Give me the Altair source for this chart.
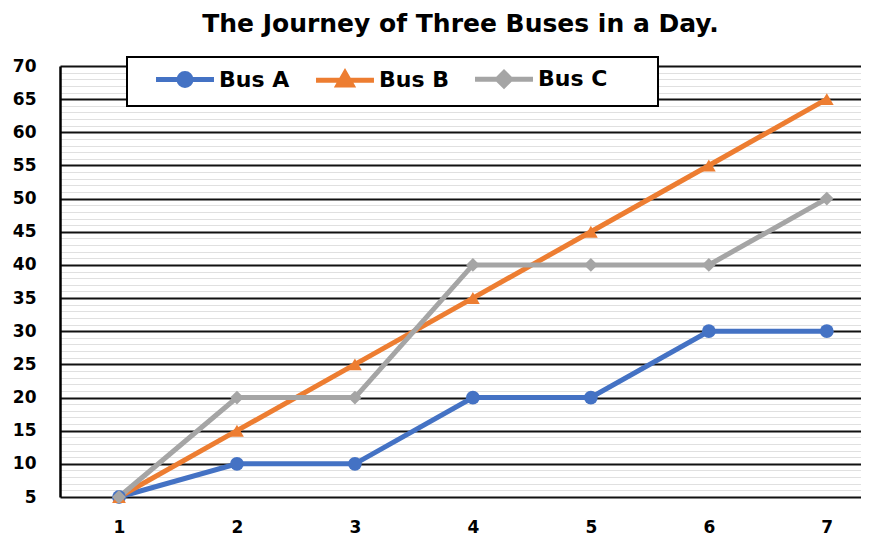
import altair as alt
import pandas as pd

hours = [1, 2, 3, 4, 5, 6, 7]
bus_a = [5, 10, 10, 20, 20, 30, 30]
bus_b = [5, 15, 25, 35, 45, 55, 65]
bus_c = [5, 20, 20, 40, 40, 40, 50]
series = ["Bus A", "Bus B", "Bus C"]
colors = ["#4472C4", "#ED7D31", "#A5A5A5"]
y_ticks = list(range(5, 71, 5))
minor_ticks = [v / 2 for v in range(10, 141)]

rows = []
for name, vals in zip(series, [bus_a, bus_b, bus_c]):
    for h, v in zip(hours, vals):
        rows.append({"hour": h, "km": v, "bus": name})
df = pd.DataFrame(rows)

FONT = "DejaVu Sans"

x_enc = alt.X("hour:Q",
              scale=alt.Scale(domain=[0.5, 7.29], nice=False, zero=False),
              axis=alt.Axis(values=hours, title=None, grid=False, ticks=False,
                            domain=False, labelFont=FONT, labelFontWeight="bold",
                            labelFontSize=17, labelColor="black", labelPadding=22,
                            format="d"))
y_enc = alt.Y("km:Q",
              scale=alt.Scale(domain=[5, 70], nice=False, zero=False),
              axis=alt.Axis(values=minor_ticks, title=None, ticks=False,
                            labelExpr="datum.value % 5 === 0 ? datum.label : ''",
                            labelOverlap=False, labelFont=FONT, labelFontWeight="bold",
                            labelFontSize=17, labelColor="black", labelPadding=24,
                            domainColor="black", domainWidth=2.5,
                            gridColor={"condition": {"test": "datum.value % 5 === 0", "value": "#111111"}, "value": "#e0e0e0"},
                            gridWidth={"condition": {"test": "datum.value % 5 === 0", "value": 2}, "value": 1},
                            format="d"))

color_scale = alt.Scale(domain=series, range=colors)

lines = alt.Chart(df).mark_line(strokeWidth=5).encode(
    x=x_enc, y=y_enc,
    color=alt.Color("bus:N", scale=color_scale, legend=None),
)

points = alt.Chart(df).mark_point(filled=True, opacity=1, size=190).encode(
    x=x_enc, y=y_enc,
    color=alt.Color("bus:N", scale=color_scale, legend=None),
    shape=alt.Shape("bus:N", scale=alt.Scale(domain=series, range=["circle", "triangle-up", "diamond"]), legend=None),
)

legend_paths = [
    "M-3.05,0H3.05M0.63,0A0.63,0.63,0,1,1,-0.63,0A0.63,0.63,0,1,1,0.63,0Z",
    "M-3.05,0H3.05M0,-0.75L0.72,0.5L-0.72,0.5Z",
    "M-3.05,0H3.05M0,-0.7L0.7,0L0,0.7L-0.7,0Z",
]

leg = alt.Legend(
    title=" ", titleOrient="right", titleFontSize=6, titlePadding=41,
    orient="none", direction="horizontal", columns=3,
    legendX=67, legendY=-9, padding=10,
    fillColor="white", strokeColor="black",
    symbolSize=361, symbolStrokeWidth=5, symbolOpacity=1, symbolOffset=36,
    labelFont=FONT, labelFontWeight="bold", labelFontSize=22,
    labelColor="black", labelOffset=22, columnPadding=7,
)

legend_layer = alt.Chart(df).mark_point(filled=True, opacity=1, strokeWidth=5).encode(
    x=x_enc, y=y_enc,
    color=alt.Color("bus:N", scale=alt.Scale(domain=series, range=colors), legend=leg),
    stroke=alt.Stroke("bus:N", scale=alt.Scale(domain=series, range=colors), legend=leg),
    shape=alt.Shape("bus:N", scale=alt.Scale(domain=series, range=legend_paths), legend=leg),
).transform_filter("datum.hour < 0")

chart = alt.layer(lines, points, legend_layer).resolve_scale(
    shape="independent", color="independent", stroke="independent"
).properties(
    width=801, height=431,
    autosize=alt.AutoSizeParams(type="none"),
    padding={"left": 52, "top": 58, "right": 0, "bottom": 40},
    title=alt.Title("The Journey of Three Buses in a Day.", font=FONT, fontSize=25,
                    fontWeight="bold", color="black", anchor="middle", offset=19),
).configure_view(stroke=None).configure_legend(strokeWidth=2)

chart.save("out.html", embed_options={"renderer": "svg", "actions": False})
